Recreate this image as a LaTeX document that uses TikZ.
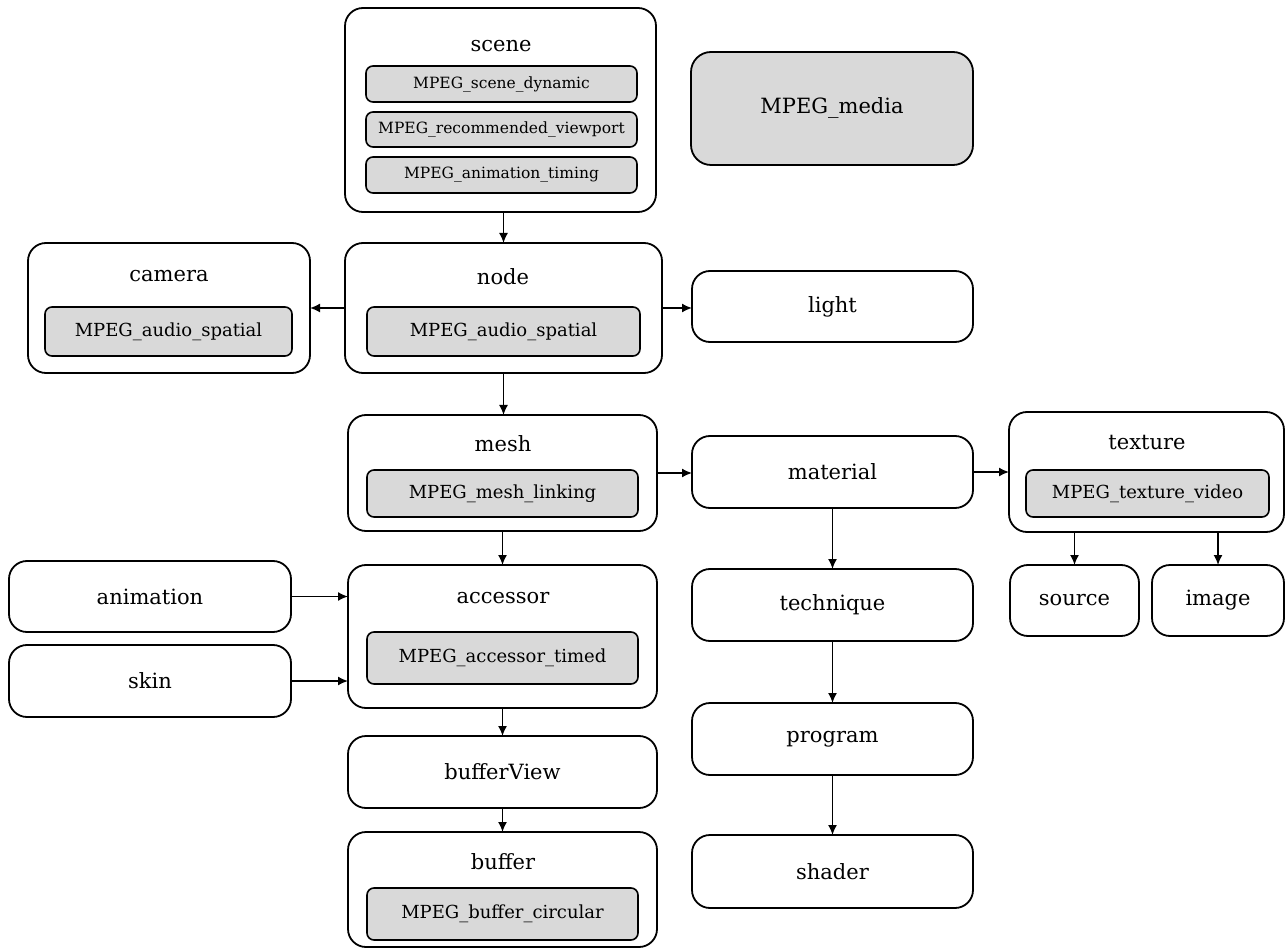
\documentclass[tikz,border=0pt]{standalone}
\usepackage{fontspec}
\setmainfont{DejaVu Serif}
\usetikzlibrary{arrows.meta}
\definecolor{inner}{HTML}{D9D9D9}
\tikzset{
  obox/.style={draw, line width=1.8pt, rounded corners=18pt, fill=white, inner sep=0pt, outer sep=0pt, anchor=north west, font=\fontsize{21}{25}\selectfont},
  ibox/.style={draw, line width=1.6pt, rounded corners=7pt, fill=inner, inner sep=0pt, outer sep=0pt, anchor=north west, font=\fontsize{18}{21}\selectfont},
  sbox/.style={ibox, font=\fontsize{15.5}{18}\selectfont},
  ttl/.style={inner sep=0pt, font=\fontsize{21}{25}\selectfont},
  arr/.style={line width=1.6pt, -{Latex[length=10pt,width=9pt]}}
}
\begin{document}
\begin{tikzpicture}[x=1pt,y=-1pt]
\useasboundingbox (0,0) rectangle (1285,949);
% scene
\node[obox, minimum width=311pt, minimum height=204pt] (scene) at (345,8) {};
\node[ttl] (scenet) at (501,46) {scene};
\node[sbox, minimum width=271pt, minimum height=36pt] (sd) at (366,66) {MPEG\_scene\_dynamic};
\node[sbox, minimum width=271pt, minimum height=35pt] (sv) at (366,112) {MPEG\_recommended\_viewport};
\node[sbox, minimum width=271pt, minimum height=36pt] (sa) at (366,157) {MPEG\_animation\_timing};
% media
\node[obox, fill=inner, rounded corners=20pt, minimum width=282pt, minimum height=113pt] (media) at (691,52) {MPEG\_media};
% node
\node[obox, minimum width=317pt, minimum height=130pt] (node) at (345,243) {};
\node[ttl] (nodet) at (503,277) {node};
\node[ibox, minimum width=273pt, minimum height=49pt] (nodei) at (367,307) {MPEG\_audio\_spatial};
% camera
\node[obox, minimum width=282pt, minimum height=130pt] (camera) at (28,243) {};
\node[ttl] (camerat) at (169,276) {camera};
\node[ibox, minimum width=247pt, minimum height=49pt] (camerai) at (45,307) {MPEG\_audio\_spatial};
% light
\node[obox, minimum width=281pt, minimum height=71pt] (light) at (692,271) {light};
% mesh
\node[obox, minimum width=309pt, minimum height=116pt] (mesh) at (348,415) {};
\node[ttl] (mesht) at (503,444) {mesh};
\node[ibox, minimum width=271pt, minimum height=47pt] (meshi) at (367,470) {MPEG\_mesh\_linking};
% material
\node[obox, minimum width=281pt, minimum height=72pt] (material) at (692,436) {material};
% texture
\node[obox, minimum width=275pt, minimum height=120pt] (texture) at (1009,412) {};
\node[ttl] (texturet) at (1147,443) {texture};
\node[ibox, minimum width=243pt, minimum height=47pt] (texturei) at (1026,470) {MPEG\_texture\_video};
% source, image
\node[obox, minimum width=129pt, minimum height=71pt] (source) at (1010,565) {source};
\node[obox, minimum width=132pt, minimum height=71pt] (image) at (1152,565) {image};
% technique, program, shader
\node[obox, minimum width=281pt, minimum height=72pt] (technique) at (692,569) {technique};
\node[obox, minimum width=281pt, minimum height=72pt] (program) at (692,703) {program};
\node[obox, minimum width=281pt, minimum height=73pt] (shader) at (692,835) {shader};
% accessor
\node[obox, minimum width=309pt, minimum height=143pt] (accessor) at (348,565) {};
\node[ttl] (accessort) at (503,598) {accessor};
\node[ibox, minimum width=271pt, minimum height=52pt] (accessori) at (367,632) {MPEG\_accessor\_timed};
% animation, skin
\node[obox, minimum width=282pt, minimum height=71pt] (animation) at (9,561) {animation};
\node[obox, minimum width=282pt, minimum height=72pt] (skin) at (9,645) {skin};
% bufferView
\node[obox, minimum width=309pt, minimum height=72pt] (bufferView) at (348,736) {bufferView};
% buffer
\node[obox, minimum width=309pt, minimum height=115pt] (buffer) at (348,832) {};
\node[ttl] (buffert) at (503,862) {buffer};
\node[ibox, minimum width=271pt, minimum height=52pt] (bufferi) at (367,888) {MPEG\_buffer\_circular};
% arrows
\draw[arr] (scene.south -| node.north) -- (node.north);
\draw[arr] (node.west) -- (camera.east);
\draw[arr] (node.east) -- (node.east -| light.west);
\draw[arr] (node.south) -- (node.south |- mesh.north);
\draw[arr] (mesh.east) -- (mesh.east -| material.west);
\draw[arr] (material.east) -- (material.east -| texture.west);
\draw[arr] (source.north |- texture.south) -- (source.north);
\draw[arr] (image.north |- texture.south) -- (image.north);
\draw[arr] (material.south) -- (technique.north);
\draw[arr] (technique.south) -- (program.north);
\draw[arr] (program.south) -- (shader.north);
\draw[arr] (mesh.south) -- (accessor.north);
\draw[arr] (animation.east) -- (animation.east -| accessor.west);
\draw[arr] (skin.east) -- (skin.east -| accessor.west);
\draw[arr] (accessor.south) -- (bufferView.north);
\draw[arr] (bufferView.south) -- (buffer.north);
\end{tikzpicture}
\end{document}
